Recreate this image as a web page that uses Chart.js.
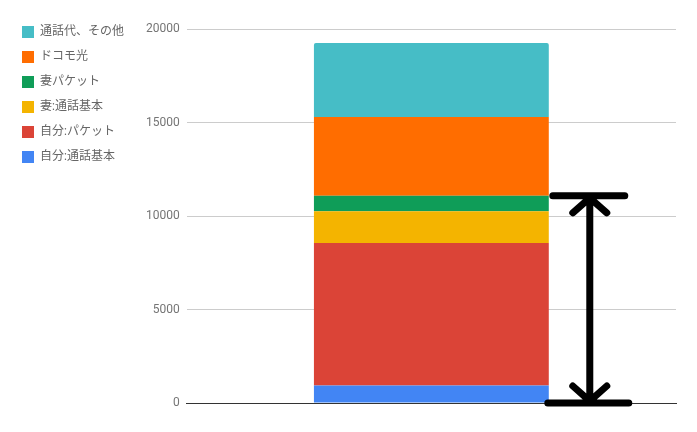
<!DOCTYPE html>
<html>
<head>
<meta charset="utf-8">
<script src="https://cdn.jsdelivr.net/npm/chart.js@4/dist/chart.umd.min.js"></script>
<style>
  html, body { margin: 0; padding: 0; background: #fff; }
  #wrap { width: 697px; height: 432px; }
</style>
</head>
<body>
<div id="wrap"><canvas id="costChart"></canvas></div>
<script>
// one month's bill, stacked
const categories = [''];
const seriesNames = ['自分:通話基本', '自分:パケット', '妻:通話基本', '妻パケット', 'ドコモ光', '通話代、その他'];
const seriesValues = [
    [930],
    [7630],
    [1700],
    [820],
    [4220],
    [3950]
];
const seriesColors = ['#4285f4', '#db4437', '#f4b400', '#0f9d58', '#ff6d00', '#46bdc6'];
const yTicks = [0, 5000, 10000, 15000, 20000];
// the arrow spans the mobile part (first four series)
const arrowSeriesCount = 4;

const fontFamily = "Roboto, 'Noto Sans CJK JP', sans-serif";

// black double arrow to the right of the bar
const arrowPlugin = {
    id: 'arrow',
    afterDatasetsDraw(chart) {
        const ctx = chart.ctx;
        const y = chart.scales.y;
        const bar = chart.getDatasetMeta(0).data[0];
        let top = 0;
        for (let i = 0; i < arrowSeriesCount; i++) top += seriesValues[i][0];
        const yTop = y.getPixelForValue(top);
        const yBot = y.getPixelForValue(0);
        const right = bar.x + bar.width / 2;
        const xc = right + 41;
        ctx.save();
        ctx.strokeStyle = '#000';
        ctx.lineWidth = 7;
        ctx.lineCap = 'round';
        ctx.beginPath();
        ctx.moveTo(xc, yTop); ctx.lineTo(xc, yBot);
        ctx.moveTo(right + 4, yTop); ctx.lineTo(right + 76, yTop);
        ctx.moveTo(right - 1, yBot); ctx.lineTo(right + 80, yBot);
        ctx.moveTo(xc - 17, yTop + 17); ctx.lineTo(xc, yTop + 2); ctx.lineTo(xc + 17, yTop + 17);
        ctx.moveTo(xc - 17, yBot - 17); ctx.lineTo(xc, yBot - 2); ctx.lineTo(xc + 17, yBot - 17);
        ctx.stroke();
        ctx.restore();
    }
};

const ctx = document.getElementById('costChart').getContext('2d');
const costChart = new Chart(ctx, {
    type: 'bar',
    data: {
        labels: categories,
        datasets: seriesNames.map((name, i) => ({
            label: name,
            data: seriesValues[i],
            backgroundColor: seriesColors[i],
            borderWidth: 0,
            borderRadius: i === seriesNames.length - 1 ? { topLeft: 2, topRight: 2 } : 0,
            borderSkipped: false,
            barPercentage: 0.8,
            categoryPercentage: 0.6
        }))
    },
    options: {
        responsive: true,
        maintainAspectRatio: false,
        animation: false,
        layout: { padding: { left: 9, top: 13, right: 21, bottom: 21 } },
        plugins: {
            legend: {
                position: 'left',
                align: 'start',
                reverse: true,
                labels: {
                    boxWidth: 12,
                    boxHeight: 12,
                    padding: 13,
                    color: '#666',
                    font: { family: fontFamily, size: 12 }
                }
            },
            tooltip: { enabled: false }
        },
        scales: {
            x: {
                stacked: true,
                grid: { display: false },
                border: { display: true, color: '#333', width: 1 },
                ticks: { display: false }
            },
            y: {
                stacked: true,
                min: 0,
                max: 20000,
                afterBuildTicks: (scale) => { scale.ticks = yTicks.map(v => ({ value: v })); },
                afterFit: (scale) => { scale.paddingTop = 29; scale.width += 5; },
                grid: { color: '#cccccc', drawTicks: false },
                border: { display: false },
                ticks: {
                    padding: 7,
                    color: '#757575',
                    font: { family: fontFamily, size: 12 },
                    callback: (v) => String(v)
                }
            }
        }
    },
    plugins: [arrowPlugin]
});
</script>
</body>
</html>
